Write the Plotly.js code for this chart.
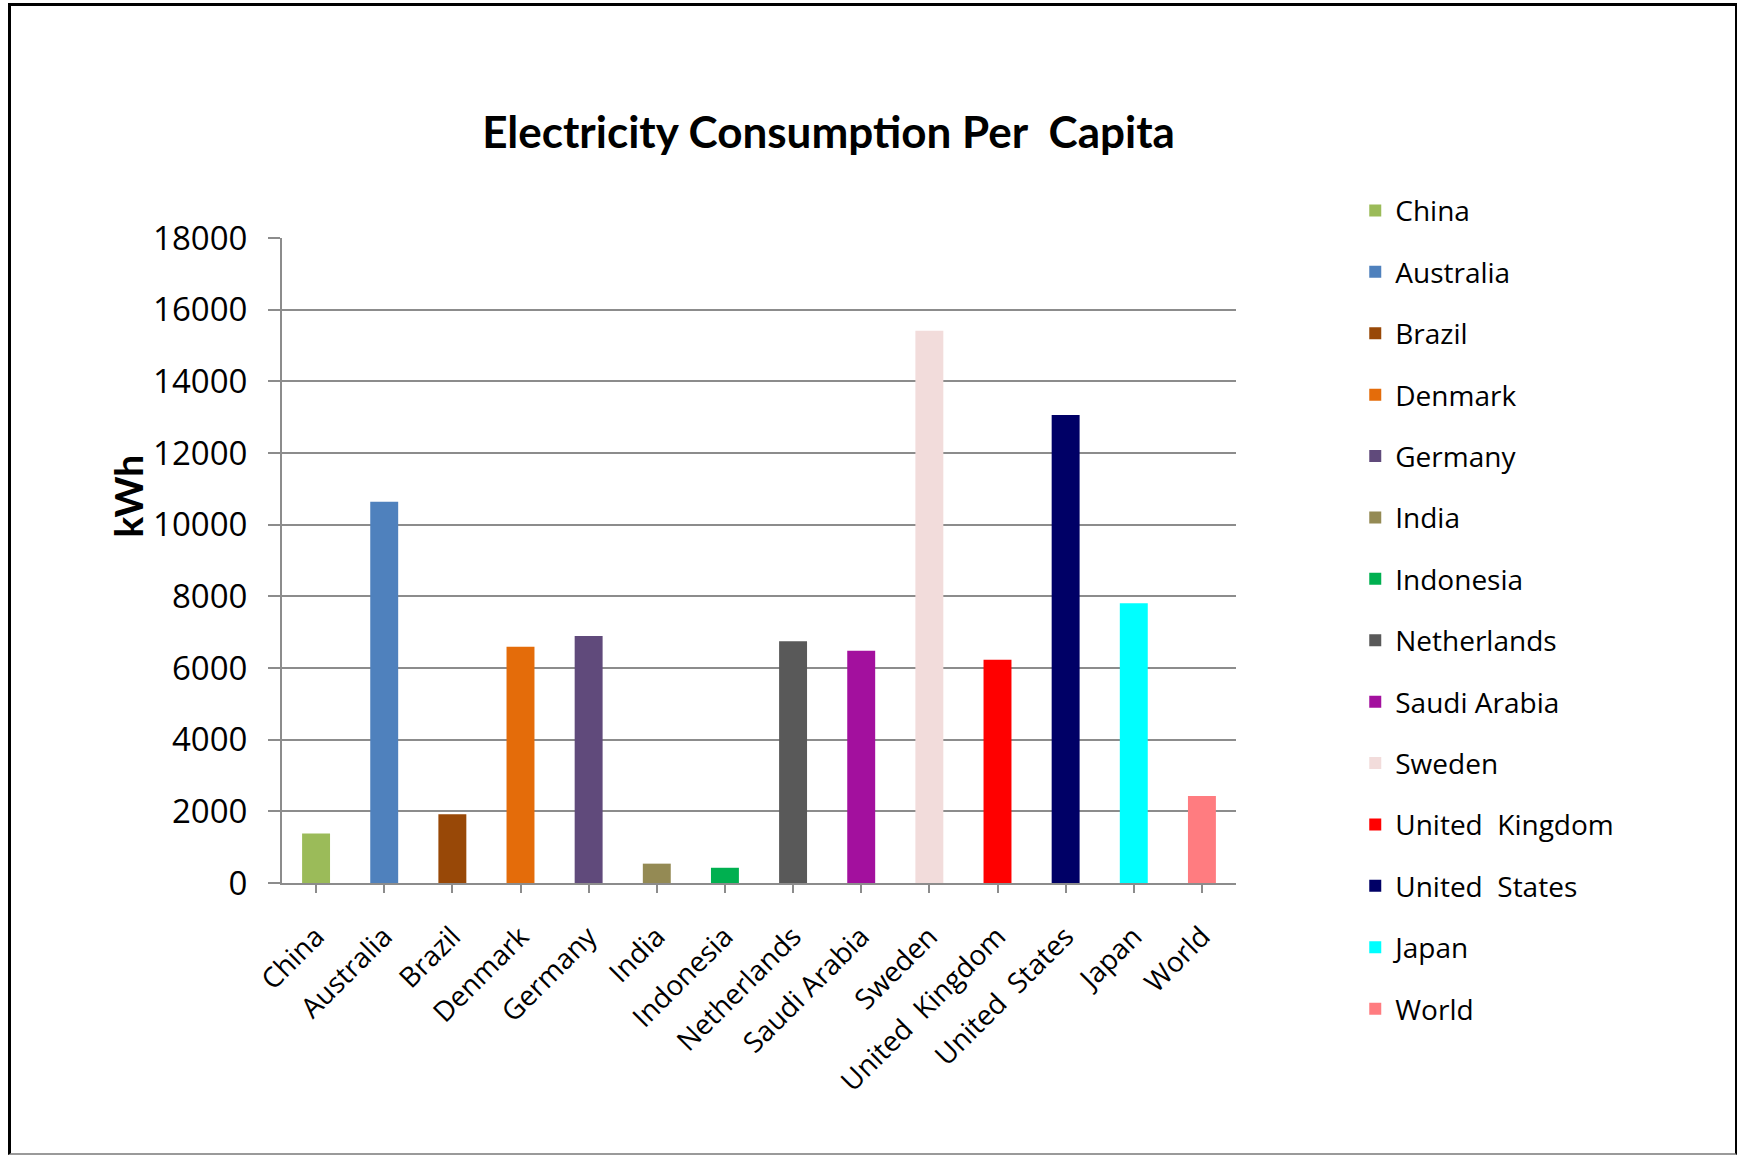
<!DOCTYPE html>
<html>
<head>
<meta charset="utf-8">
<script src="https://cdn.plot.ly/plotly-3.0.1.min.js"></script>
<style>
  html, body { margin: 0; padding: 0; background: #fff; }
  #wrap { position: relative; width: 1737px; height: 1155px; }
  #chart { width: 1737px; height: 1155px; }
  #frame {
    position: absolute; left: 8px; top: 3px; right: 0; bottom: 0;
    border-left: 3px solid #000; border-top: 3px solid #000;
    border-right: 2px solid #000; border-bottom: 2px solid #9a9a9a;
    pointer-events: none;
  }
</style>
</head>
<body>
<div id="wrap">
  <div id="chart"></div>
  <div id="frame"></div>
</div>
<script>
// Electricity consumption per capita (kWh per person)
const countries = ["China", "Australia", "Brazil", "Denmark", "Germany", "India",
  "Indonesia", "Netherlands", "Saudi Arabia", "Sweden", "United\u00a0\u00a0Kingdom",
  "United\u00a0\u00a0States", "Japan", "World"];
const consumption = [1380, 10640, 1920, 6590, 6890, 540, 425, 6750, 6480, 15410, 6230, 13060, 7810, 2430];
const barColors = ["#9BBB59", "#4F81BD", "#984807", "#E46C0A", "#604A7B", "#948A54",
  "#00B050", "#595959", "#A3109E", "#F2DCDB", "#FF0000", "#000066", "#00FFFF", "#FF7C80"];
const yTicks = [0, 2000, 4000, 6000, 8000, 10000, 12000, 14000, 16000, 18000];

const FONT = "Open Sans, Lato, sans-serif";

// One trace per country so each gets its own legend entry
const traces = countries.map((name, i) => ({
  type: "bar",
  name: name,
  legendgroup: "g" + i,
  x: [name],
  y: [consumption[i]],
  marker: { color: barColors[i] },
  width: 0.41,
  hoverinfo: "x+y"
}));

const layout = {
  width: 1737,
  height: 1155,
  margin: { l: 282, r: 501, t: 238, b: 272 },
  paper_bgcolor: "#ffffff",
  plot_bgcolor: "#ffffff",
  barmode: "overlay",
  title: {
    text: "<b>Electricity Consumption Per\u00a0\u00a0Capita</b>",
    font: { family: "Lato, Open Sans, sans-serif", size: 44, color: "#000" },
    x: 0.477, xanchor: "center",
    y: 0.885, yanchor: "middle"
  },
  xaxis: {
    type: "category",
    categoryorder: "array",
    categoryarray: countries,
    tickangle: -45,
    tickfont: { family: FONT, size: 28, color: "#000" },
    ticks: "outside", ticklen: 8, tickwidth: 2, tickcolor: "#8c8c8c",
    ticklabelstandoff: 16,
    showline: true, linecolor: "#8c8c8c", linewidth: 2,
    showgrid: false, zeroline: false,
    range: [-0.5, countries.length - 0.5],
    fixedrange: true
  },
  yaxis: {
    range: [0, 18000],
    tickvals: yTicks,
    ticktext: yTicks.map(String),
    tickfont: { family: FONT, size: 33, color: "#000" },
    ticks: "outside", ticklen: 12, tickwidth: 2, tickcolor: "#8c8c8c",
    ticklabelstandoff: 14,
    showline: true, linecolor: "#8c8c8c", linewidth: 2,
    showgrid: true, gridcolor: "#8c8c8c", gridwidth: 2,
    zeroline: false,
    fixedrange: true
  },
  annotations: [{
    text: "<b>kWh</b>",
    textangle: -90,
    xref: "paper", yref: "paper",
    x: -0.161, y: 0.6, xanchor: "center", yanchor: "middle",
    showarrow: false,
    font: { family: "Lato, Open Sans, sans-serif", size: 39, color: "#000" }
  }],
  legend: {
    x: 1.125, xanchor: "left",
    y: 1.081, yanchor: "top",
    font: { family: FONT, size: 28, color: "#000" },
    tracegroupgap: 22,
    maxheight: 1100,
    bgcolor: "rgba(0,0,0,0)",
    borderwidth: 0
  },
  showlegend: true
};

Plotly.newPlot("chart", traces, layout, { displayModeBar: false, staticPlot: true });
</script>
</body>
</html>
